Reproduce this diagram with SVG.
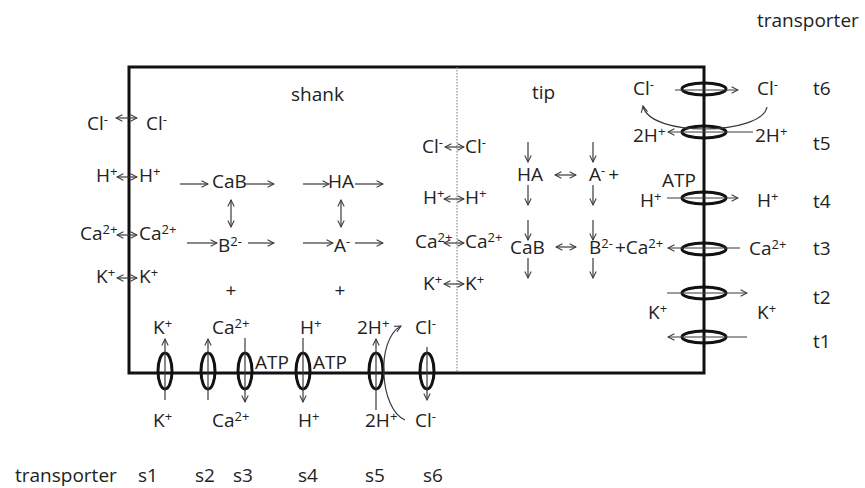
<svg xmlns="http://www.w3.org/2000/svg" width="865" height="488" viewBox="0 0 865 488">
<style>
text{font-family:"Open Sans","Liberation Sans",sans-serif;font-size:19px;fill:#222}
.sup{font-size:13px}
.ar{stroke:#3a3a3a;stroke-width:1.2;fill:none;marker-end:url(#ah)}
.da{stroke:#3a3a3a;stroke-width:1.2;fill:none;marker-end:url(#ah);marker-start:url(#ah)}
.tr{fill:none;stroke:#111;stroke-width:3}
.box{fill:none;stroke:#111;stroke-width:3}
</style>
<defs>
<marker id="ah" viewBox="0 0 10 10" refX="9" refY="5" markerWidth="8" markerHeight="8" markerUnits="userSpaceOnUse" orient="auto-start-reverse">
<path d="M1,1 L9,5 L1,9" fill="none" stroke="#3a3a3a" stroke-width="1.3"/>
</marker>
</defs>
<rect width="865" height="488" fill="#fff"/>
<g id="cell">
<rect class="box" x="129" y="67" width="575" height="306"/>
<line x1="457" y1="67" x2="457" y2="373" stroke="#777" stroke-width="1" stroke-dasharray="1.5,1.5"/>
</g>
<g id="labels">
<text x="757" y="27">transporter</text>
<text x="291" y="101">shank</text>
<text x="532" y="99">tip</text>
<text x="15" y="482">transporter</text>
<text x="138" y="482">s1</text>
<text x="195" y="482">s2</text>
<text x="233" y="482">s3</text>
<text x="298" y="482">s4</text>
<text x="365" y="482">s5</text>
<text x="423" y="482">s6</text>
<text x="813" y="95">t6</text>
<text x="813" y="150">t5</text>
<text x="813" y="208">t4</text>
<text x="813" y="255">t3</text>
<text x="813" y="304">t2</text>
<text x="813" y="348">t1</text>
</g>
<g id="shank-ions">
<text x="87" y="130">Cl<tspan class="sup" dy="-6">-</tspan></text>
<text x="146" y="130">Cl<tspan class="sup" dy="-6">-</tspan></text>
<text x="96" y="182">H<tspan class="sup" dy="-6">+</tspan></text>
<text x="139" y="182">H<tspan class="sup" dy="-6">+</tspan></text>
<text x="80" y="240">Ca<tspan class="sup" dy="-6">2+</tspan></text>
<text x="139" y="240">Ca<tspan class="sup" dy="-6">2+</tspan></text>
<text x="96" y="283">K<tspan class="sup" dy="-6">+</tspan></text>
<text x="139" y="283">K<tspan class="sup" dy="-6">+</tspan></text>
</g>
<g id="shank-buffers">
<text x="212" y="188">CaB</text>
<text x="218" y="252">B<tspan class="sup" dy="-6">2-</tspan></text>
<text x="231" y="297" text-anchor="middle">+</text>
<text x="328" y="188">HA</text>
<text x="334" y="252">A<tspan class="sup" dy="-6">-</tspan></text>
<text x="340" y="297" text-anchor="middle">+</text>
</g>
<g id="boundary-ions">
<text x="422" y="153">Cl<tspan class="sup" dy="-6">-</tspan></text>
<text x="465" y="153">Cl<tspan class="sup" dy="-6">-</tspan></text>
<text x="423" y="204">H<tspan class="sup" dy="-6">+</tspan></text>
<text x="465" y="204">H<tspan class="sup" dy="-6">+</tspan></text>
<text x="415" y="248">Ca<tspan class="sup" dy="-6">2+</tspan></text>
<text x="465" y="248">Ca<tspan class="sup" dy="-6">2+</tspan></text>
<text x="423" y="290">K<tspan class="sup" dy="-6">+</tspan></text>
<text x="465" y="290">K<tspan class="sup" dy="-6">+</tspan></text>
</g>
<g id="tip-buffers">
<text x="517" y="181">HA</text>
<text x="589" y="181">A<tspan class="sup" dy="-6">-</tspan><tspan dy="6" dx="3">+</tspan></text>
<text x="510" y="254">CaB</text>
<text x="589" y="254">B<tspan class="sup" dy="-6">2-</tspan><tspan dy="6" dx="2">+</tspan><tspan>Ca</tspan><tspan class="sup" dy="-6">2+</tspan></text>
</g>
<g id="tip-transporters">
<text x="633" y="95">Cl<tspan class="sup" dy="-6">-</tspan></text>
<text x="757" y="95">Cl<tspan class="sup" dy="-6">-</tspan></text>
<text x="633" y="142">2H<tspan class="sup" dy="-6">+</tspan></text>
<text x="755" y="142">2H<tspan class="sup" dy="-6">+</tspan></text>
<text x="662" y="187">ATP</text>
<text x="640" y="207">H<tspan class="sup" dy="-6">+</tspan></text>
<text x="757" y="207">H<tspan class="sup" dy="-6">+</tspan></text>
<text x="749" y="255">Ca<tspan class="sup" dy="-6">2+</tspan></text>
<text x="648" y="319">K<tspan class="sup" dy="-6">+</tspan></text>
<text x="757" y="319">K<tspan class="sup" dy="-6">+</tspan></text>
<ellipse class="tr" cx="704" cy="89" rx="22" ry="6"/>
<ellipse class="tr" cx="704" cy="132" rx="22" ry="6"/>
<ellipse class="tr" cx="704" cy="198" rx="22" ry="6"/>
<ellipse class="tr" cx="704" cy="249" rx="22" ry="6"/>
<ellipse class="tr" cx="704" cy="293" rx="22" ry="6"/>
<ellipse class="tr" cx="704" cy="337" rx="22" ry="6"/>
</g>
<g id="shank-transporters">
<text x="153" y="334">K<tspan class="sup" dy="-6">+</tspan></text>
<text x="153" y="427">K<tspan class="sup" dy="-6">+</tspan></text>
<text x="212" y="334">Ca<tspan class="sup" dy="-6">2+</tspan></text>
<text x="212" y="427">Ca<tspan class="sup" dy="-6">2+</tspan></text>
<text x="255" y="369">ATP</text>
<text x="300" y="334">H<tspan class="sup" dy="-6">+</tspan></text>
<text x="298" y="427">H<tspan class="sup" dy="-6">+</tspan></text>
<text x="313" y="369">ATP</text>
<text x="357" y="334">2H<tspan class="sup" dy="-6">+</tspan></text>
<text x="365" y="427">2H<tspan class="sup" dy="-6">+</tspan></text>
<text x="415" y="334">Cl<tspan class="sup" dy="-6">-</tspan></text>
<text x="415" y="427">Cl<tspan class="sup" dy="-6">-</tspan></text>
<ellipse class="tr" cx="165" cy="371" rx="7" ry="18"/>
<ellipse class="tr" cx="208" cy="371" rx="7" ry="18"/>
<ellipse class="tr" cx="245" cy="371" rx="7" ry="18"/>
<ellipse class="tr" cx="303" cy="371" rx="7" ry="18"/>
<ellipse class="tr" cx="376" cy="371" rx="7" ry="18"/>
<ellipse class="tr" cx="427" cy="371" rx="7" ry="18"/>
</g>
<g id="connectors">
<line class="da" x1="116" y1="118" x2="137" y2="118"/>
<line class="da" x1="117" y1="177" x2="137" y2="177"/>
<line class="da" x1="117" y1="235" x2="137" y2="235"/>
<line class="da" x1="117" y1="278" x2="137" y2="278"/>
<line class="da" x1="445" y1="147" x2="464" y2="147"/>
<line class="da" x1="444" y1="199" x2="464" y2="199"/>
<line class="da" x1="444" y1="243" x2="464" y2="243"/>
<line class="da" x1="444" y1="284" x2="464" y2="284"/>
<line class="ar" x1="180" y1="184" x2="208" y2="184"/>
<line class="ar" x1="245" y1="184" x2="274" y2="184"/>
<line class="ar" x1="187" y1="243" x2="217" y2="243"/>
<line class="ar" x1="248" y1="243" x2="274" y2="243"/>
<line class="da" x1="231" y1="200" x2="231" y2="227"/>
<line class="ar" x1="303" y1="184" x2="329" y2="184"/>
<line class="ar" x1="355" y1="184" x2="383" y2="184"/>
<line class="ar" x1="303" y1="243" x2="333" y2="243"/>
<line class="ar" x1="355" y1="243" x2="383" y2="243"/>
<line class="da" x1="341" y1="200" x2="341" y2="227"/>
<line class="ar" x1="528" y1="142" x2="528" y2="162"/>
<line class="ar" x1="593" y1="142" x2="593" y2="162"/>
<line class="ar" x1="528" y1="185" x2="528" y2="205"/>
<line class="ar" x1="593" y1="185" x2="593" y2="205"/>
<line class="ar" x1="528" y1="220" x2="528" y2="240"/>
<line class="ar" x1="593" y1="220" x2="593" y2="240"/>
<line class="ar" x1="528" y1="258" x2="528" y2="278"/>
<line class="ar" x1="593" y1="258" x2="593" y2="278"/>
<line class="da" x1="555" y1="175" x2="576" y2="175"/>
<line class="da" x1="556" y1="247" x2="576" y2="247"/>
<line class="ar" x1="675" y1="90" x2="738" y2="90"/>
<path class="ar" d="M767,107 C762,135 650,138 643,106"/>
<line class="ar" x1="753" y1="132" x2="668" y2="132"/>
<line class="ar" x1="667" y1="198" x2="738" y2="198"/>
<line class="ar" x1="740" y1="248" x2="668" y2="248"/>
<line class="ar" x1="667" y1="293" x2="747" y2="293"/>
<line class="ar" x1="747" y1="337" x2="668" y2="337"/>
<line class="ar" x1="165" y1="400" x2="165" y2="339"/>
<line class="ar" x1="208" y1="400" x2="208" y2="339"/>
<line class="ar" x1="245" y1="338" x2="245" y2="402"/>
<line class="ar" x1="303" y1="338" x2="303" y2="402"/>
<line class="ar" x1="376" y1="410" x2="376" y2="339"/>
<path class="ar" d="M405,420 C380,410 375,340 401,326"/>
<line class="ar" x1="427" y1="347" x2="427" y2="400"/>
</g>
</svg>
